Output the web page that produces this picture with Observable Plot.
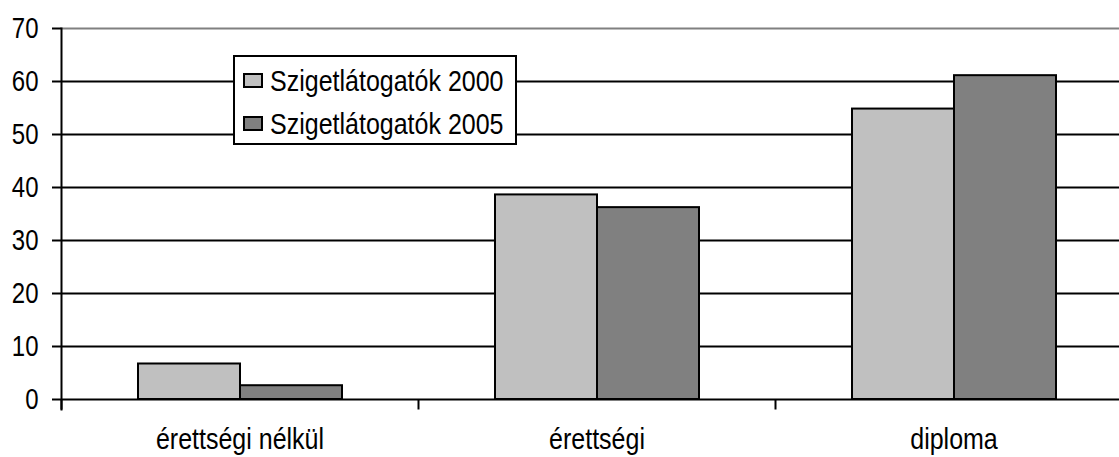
<!DOCTYPE html>
<html><head><meta charset="utf-8">
<script src="https://cdn.jsdelivr.net/npm/d3@7"></script>
<script src="https://cdn.jsdelivr.net/npm/@observablehq/plot@0.6"></script>
<style>
body{margin:0;background:#fff;overflow:hidden;font-family:"Liberation Sans",Arial,sans-serif;color:#000}
#wrap{position:relative;width:1119px;height:457px;overflow:hidden}
#legend{position:absolute;left:233px;top:55px;width:280px;height:86px;border:2px solid #000;background:#fff}
.row{position:absolute;left:8px;display:flex;align-items:center;font-size:25px;height:30px;white-space:nowrap}
.sw{width:16px;height:11px;border:2px solid #000;margin-right:7px}
.row span{display:inline-block;transform:scaleY(1.2);transform-origin:center}
</style></head><body><div id="wrap"></div>
<script>
const categories = ["érettségi nélkül", "érettségi", "diploma"];
const seriesNames = ["Szigetlátogatók 2000", "Szigetlátogatók 2005"];
const values2000 = [6.7, 38.6, 54.8];
const values2005 = [2.6, 36.2, 61.1];
const seriesColors = ["#c0c0c0", "#808080"];
const yTicks = [0, 10, 20, 30, 40, 50, 60, 70];

const data = categories.flatMap((c, i) => [
  {category: c, series: seriesNames[0], value: values2000[i]},
  {category: c, series: seriesNames[1], value: values2005[i]}
]);

const vTick = {draw(ctx) { ctx.moveTo(0, 0); ctx.lineTo(0, 10); }};

const chart = Plot.plot({
  width: 1119, height: 457,
  marginLeft: 61, marginRight: -13, marginTop: 28, marginBottom: 58,
  style: {fontFamily: "Liberation Sans, Arial, sans-serif", fontSize: "24px", background: "#fff", color: "#000", overflow: "hidden"},
  fx: {domain: categories, padding: 0, axis: null},
  x: {domain: seriesNames, paddingInner: 0, paddingOuter: 0.7415, axis: null},
  y: {domain: [0, 70], axis: null, label: null},
  color: {domain: seriesNames, range: seriesColors},
  marks: [
    Plot.gridY(yTicks.filter(t => t > 0 && t < 70), {stroke: "#000", strokeOpacity: 1, strokeWidth: 2}),
    Plot.ruleY([70], {stroke: "#808080", strokeWidth: 2}),
    Plot.barY(data, {fx: "category", x: "series", y: "value", fill: "series", stroke: "#000", strokeWidth: 2}),
    Plot.ruleY([0], {stroke: "#000", strokeWidth: 2}),
    Plot.axisY({ticks: yTicks, tickSize: 9, tickPadding: 14, fontSize: 24, strokeWidth: 2, tickFormat: d => d, label: null}),
    Plot.frame({anchor: "left", fx: () => categories[0], insetBottom: -10, stroke: "#000", strokeWidth: 2}),
    Plot.dot([null], {frameAnchor: "bottom-left", symbol: vTick, fill: "none", stroke: "#000", strokeWidth: 2}),
    Plot.text(categories, {fx: d => d, text: d => d, frameAnchor: "bottom", dy: 48, fontSize: 25, fill: "#000"})
  ]
});

const wrap = document.getElementById("wrap");
wrap.appendChild(chart);

// stretch glyphs vertically about their own centre to match the reference's tall lettering
chart.querySelectorAll("text").forEach(t => {
  const b = t.getBBox();
  const cx = b.x + b.width / 2, cy = b.y + b.height / 2;
  const prev = t.getAttribute("transform") || "";
  t.setAttribute("transform", `${prev} translate(${cx},${cy}) scale(1,1.2) translate(${-cx},${-cy})`);
});

const legend = document.createElement("div");
legend.id = "legend";
seriesNames.forEach((name, i) => {
  const row = document.createElement("div");
  row.className = "row";
  row.style.top = (8 + i * 43) + "px";
  const sw = document.createElement("div");
  sw.className = "sw";
  sw.style.background = seriesColors[i];
  const t = document.createElement("span");
  t.textContent = name;
  row.appendChild(sw); row.appendChild(t);
  legend.appendChild(row);
});
wrap.appendChild(legend);
</script></body></html>
